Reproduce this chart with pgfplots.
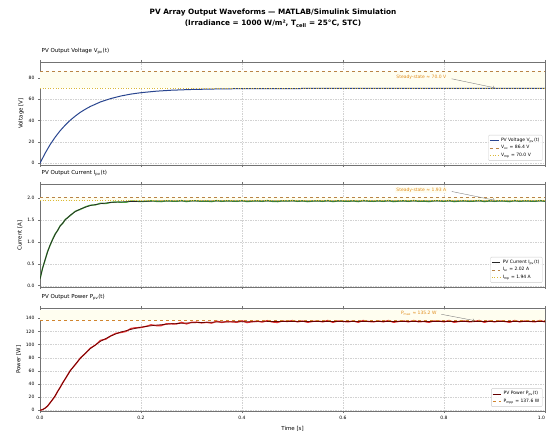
\documentclass[border=0pt]{standalone}
\usepackage{fontspec}
\setmainfont{DejaVu Sans}
\usepackage{pgfplots}
\usepackage{pgfplotstable}
\pgfplotsset{compat=1.18}

\definecolor{vcol}{rgb}{0.16,0.27,0.56}
\definecolor{icol}{rgb}{0.30,0.68,0.25}
\definecolor{pcol}{rgb}{0.88,0.20,0.20}
\definecolor{occol}{rgb}{0.82,0.52,0.18}
\definecolor{mpcol}{rgb}{0.86,0.72,0.22}
\definecolor{anncol}{rgb}{0.88,0.55,0.10}
\definecolor{framecol}{rgb}{0.45,0.45,0.45}

% voltage, smooth first-order rise
\pgfplotstableread{
t V
0 0
0.01 9.3
0.02 17.4
0.03 24.4
0.04 30.5
0.05 35.7
0.06 40.3
0.07 44.2
0.08 47.7
0.09 50.6
0.10 53.2
0.12 57.4
0.14 60.5
0.16 62.9
0.18 64.7
0.20 66.0
0.23 67.4
0.26 68.3
0.30 69.0
0.35 69.5
0.40 69.8
0.50 69.9
0.60 70.0
1.00 70.0
}\voltdata

% filtered current and power
\pgfplotstableread{
t I P
0 0.15 0
0.005 0.39 0.8
0.01 0.59 3
0.015 0.77 6.5
0.02 0.93 11
0.03 1.17 22
0.04 1.36 35
0.05 1.50 48
0.06 1.61 60
0.07 1.69 70
0.08 1.75 79
0.09 1.79 87
0.10 1.83 94
0.12 1.87 105
0.14 1.90 113
0.16 1.91 119
0.18 1.92 123
0.20 1.925 126.5
0.23 1.93 129.5
0.26 1.93 131.5
0.30 1.93 133.1
0.35 1.93 134.2
0.40 1.93 134.7
0.50 1.93 135.1
0.60 1.93 135.2
1.00 1.93 135.2
}\smoothdata

% raw (noisy) current and power
\pgfplotstableread{
t I P
0 0.15 0
0.005 0.40 0.9
0.01 0.58 3.2
0.015 0.78 6.2
0.02 0.92 11.5
0.025 1.06 16.2
0.03 1.18 21.6
0.035 1.26 28.8
0.04 1.37 34.6
0.045 1.42 41.8
0.05 1.51 47.6
0.06 1.60 60.5
0.07 1.70 69.4
0.08 1.74 79.6
0.09 1.80 86.5
0.10 1.836 94.7
0.11 1.844 99.3
0.12 1.882 106.4
0.13 1.873 108.1
0.14 1.900 113.0
0.15 1.911 117.0
0.16 1.904 118.3
0.17 1.903 119.8
0.18 1.932 124.4
0.19 1.928 125.6
0.20 1.919 125.8
0.21 1.927 127.6
0.22 1.940 130.0
0.23 1.924 128.8
0.24 1.918 128.8
0.25 1.936 131.6
0.26 1.930 131.5
0.27 1.924 131.3
0.28 1.942 133.8
0.29 1.918 131.4
0.30 1.936 133.8
0.31 1.936 134.1
0.32 1.924 132.9
0.33 1.930 133.8
0.34 1.918 132.6
0.35 1.942 135.6
0.36 1.924 133.6
0.37 1.936 135.1
0.38 1.930 134.5
0.39 1.924 133.9
0.40 1.942 136.1
0.41 1.918 133.4
0.42 1.930 134.8
0.43 1.936 135.6
0.44 1.924 134.2
0.45 1.942 136.4
0.46 1.924 134.3
0.47 1.918 133.6
0.48 1.936 135.8
0.49 1.930 135.1
0.50 1.942 136.5
0.51 1.924 134.5
0.52 1.936 135.9
0.53 1.918 133.8
0.54 1.930 135.2
0.55 1.936 135.9
0.56 1.924 134.5
0.57 1.942 136.6
0.58 1.918 133.8
0.59 1.936 135.9
0.60 1.930 135.2
0.61 1.924 134.5
0.62 1.936 135.9
0.63 1.918 133.8
0.64 1.942 136.6
0.65 1.930 135.2
0.66 1.924 134.5
0.67 1.936 135.9
0.68 1.924 134.5
0.69 1.942 136.6
0.70 1.918 133.8
0.71 1.930 135.2
0.72 1.936 135.9
0.73 1.924 134.5
0.74 1.942 136.6
0.75 1.924 134.5
0.76 1.930 135.2
0.77 1.918 133.8
0.78 1.936 135.9
0.79 1.936 135.9
0.80 1.924 134.5
0.81 1.942 136.6
0.82 1.918 133.8
0.83 1.930 135.2
0.84 1.936 135.9
0.85 1.924 134.5
0.86 1.930 135.2
0.87 1.942 136.6
0.88 1.918 133.8
0.89 1.936 135.9
0.90 1.924 134.5
0.91 1.936 135.9
0.92 1.930 135.2
0.93 1.918 133.8
0.94 1.942 136.6
0.95 1.924 134.5
0.96 1.936 135.9
0.97 1.930 135.2
0.98 1.924 134.5
0.99 1.942 136.6
1.00 1.924 134.5
}\rawdata

\pgfplotsset{
  panel/.style={
    width=505pt, height=103pt, scale only axis,
    xmin=0, xmax=1,
    xtick={0,0.2,0.4,0.6,0.8,1},
    grid=major,
    grid style={gray!35, line width=0.3pt, dash pattern=on 1.5pt off 1pt},
    axis line style={framecol, line width=0.9pt},
    tick style={framecol, line width=0.4pt},
    tick align=outside, major tick length=2pt,
    tick label style={font=\fontsize{4.5}{5}\selectfont},
    /pgf/number format/assume math mode=true,
    label style={font=\fontsize{5.5}{6}\selectfont},
    ylabel style={yshift=-2pt},
    title style={at={(0,1)}, anchor=south west, inner sep=1.5pt,
                 font=\fontsize{5.5}{6}\selectfont},
    legend style={at={(0.995,0.04)}, anchor=south east,
                  font=\fontsize{4.5}{5.5}\selectfont,
                  draw=gray!40, fill=white, fill opacity=0.85, text opacity=1,
                  rounded corners=1pt, inner sep=1pt, row sep=-1.5pt},
    legend cell align=left,
    legend image code/.code={\draw[#1] (0cm,0cm) -- (0.3cm,0cm);},
  },
}

\begin{document}
\begin{tikzpicture}
\path[use as bounding box] (0,0) rectangle (546pt,434pt);

\node[align=center, font=\fontsize{7.3}{11}\selectfont\bfseries] at (273pt,415.5pt)
  {PV Array Output Waveforms — MATLAB/Simulink Simulation\\
   (Irradiance = 1000 W/m², T\textsubscript{cell} = 25°C, STC)};

% ---- voltage
\begin{axis}[panel, at={(40pt,269pt)}, anchor=south west,
  ymin=-1.6, ymax=94.7, ytick={0,20,40,60,80},
  xticklabels={},
  ylabel={Voltage [V]},
  title={PV Output Voltage V\textsubscript{pv}(t)}]
\addplot[fill=yellow!6, draw=none, forget plot]
  coordinates {(0,70.0) (1,70.0) (1,86.4) (0,86.4)} -- cycle;
\addplot[vcol, line width=1pt] table[x=t,y=V] {\voltdata};
\addlegendentry{PV Voltage V\textsubscript{pv}(t)}
\addplot[occol!70!gray, dashed, line width=0.5pt] coordinates {(0,86.4) (1,86.4)};
\addlegendentry{V\textsubscript{oc} = 86.4 V}
\addplot[mpcol, dotted, line width=0.6pt] coordinates {(0,70.0) (1,70.0)};
\addlegendentry{V\textsubscript{mp} = 70.0 V}
\node[font=\fontsize{4.5}{5}\selectfont, text=anncol, fill=yellow!5, inner sep=1pt]
  at (axis cs:0.755,80.5) {Steady-state ≈ 70.0 V};
\draw[->, gray, line width=0.4pt] (axis cs:0.815,79) -- (axis cs:0.9,70.6);
\end{axis}

% ---- current
\begin{axis}[panel, at={(40pt,147pt)}, anchor=south west,
  ymin=-0.03, ymax=2.32, ytick={0,0.5,1,1.5,2},
  yticklabel style={/pgf/number format/.cd, fixed, fixed zerofill, precision=1},
  xticklabels={},
  ylabel={Current [A]},
  title={PV Output Current I\textsubscript{pv}(t)}]
\addplot[fill=yellow!6, draw=none, forget plot]
  coordinates {(0,1.94) (1,1.94) (1,2.02) (0,2.02)} -- cycle;
\addplot[icol, line width=1.3pt, forget plot] table[x=t,y=I] {\rawdata};
\addplot[black!85, line width=0.7pt] table[x=t,y=I] {\smoothdata};
\addlegendentry{PV Current I\textsubscript{pv}(t)}
\addplot[occol!70!gray, dashed, line width=0.5pt] coordinates {(0,2.02) (1,2.02)};
\addlegendentry{I\textsubscript{sc} = 2.02 A}
\addplot[mpcol, dotted, line width=0.6pt] coordinates {(0,1.94) (1,1.94)};
\addlegendentry{I\textsubscript{mp} = 1.94 A}
\node[font=\fontsize{4.5}{5}\selectfont, text=anncol, fill=yellow!5, inner sep=1pt]
  at (axis cs:0.755,2.18) {Steady-state ≈ 1.93 A};
\draw[->, gray, line width=0.4pt] (axis cs:0.815,2.15) -- (axis cs:0.9,1.95);
\end{axis}

% ---- power
\begin{axis}[panel, at={(40pt,23pt)}, anchor=south west,
  ymin=-1.2, ymax=155.6, ytick={0,20,40,60,80,100,120,140},
  xticklabels={0.0,0.2,0.4,0.6,0.8,\makebox[0pt][r]{1.0}},
  xlabel={Time [s]},
  ylabel={Power [W]},
  title={PV Output Power P\textsubscript{pv}(t)}]
\addplot[fill=yellow!6, draw=none, forget plot]
  coordinates {(0,137.6) (1,137.6) (1,152) (0,152)} -- cycle;
\addplot[pcol, line width=1.3pt, forget plot] table[x=t,y=P] {\rawdata};
\addplot[black!60!red, line width=0.7pt] table[x=t,y=P] {\smoothdata};
\addlegendentry{PV Power P\textsubscript{pv}(t)}
\addplot[occol, dashed, line width=0.5pt] coordinates {(0,137.6) (1,137.6)};
\addlegendentry{P\textsubscript{mpp} = 137.6 W}
\node[font=\fontsize{4.5}{5}\selectfont, text=anncol, fill=yellow!5, inner sep=1pt]
  at (axis cs:0.75,148) {P\textsubscript{max} ≈ 135.2 W};
\draw[->, gray, line width=0.4pt] (axis cs:0.795,146) -- (axis cs:0.86,136.5);
\end{axis}
\end{tikzpicture}
\end{document}
